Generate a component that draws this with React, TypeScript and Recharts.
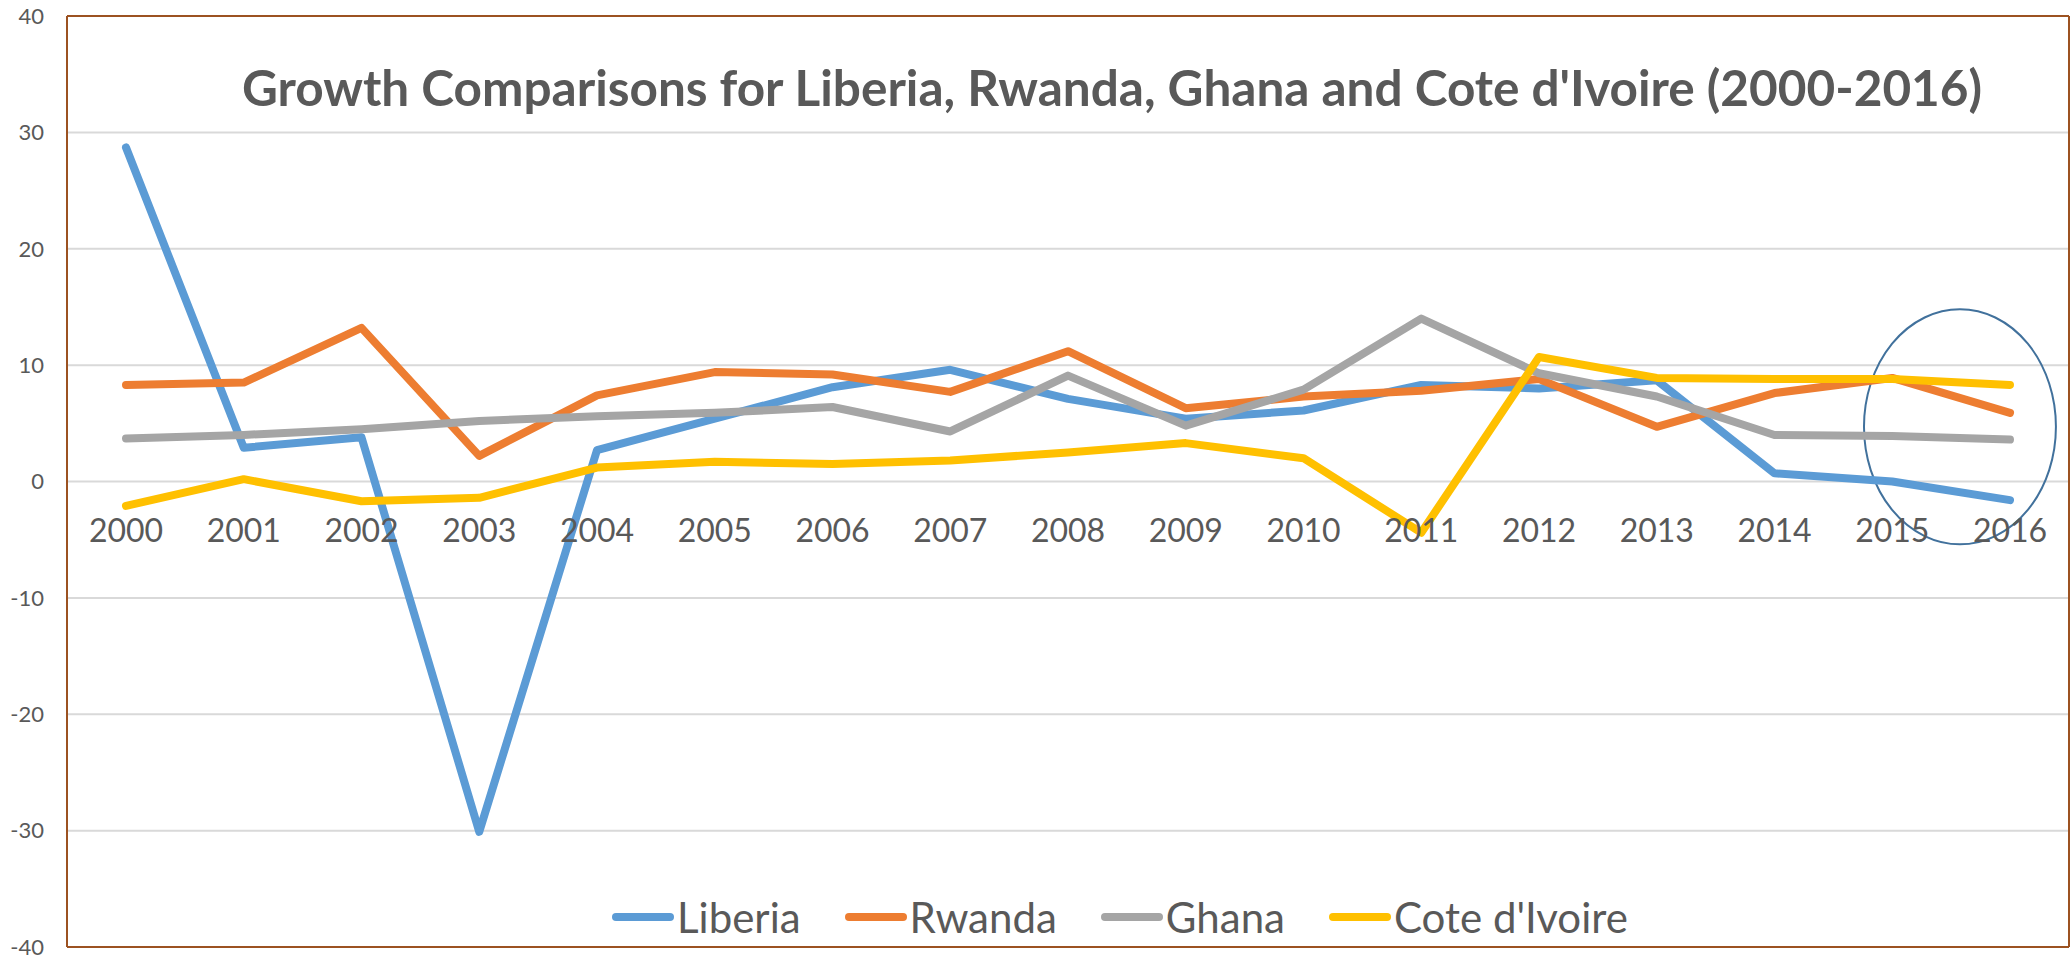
import React from "react";
import { CartesianGrid, Legend, Line, LineChart, ReferenceArea, XAxis, YAxis } from "recharts";

const years = ["2000", "2001", "2002", "2003", "2004", "2005", "2006", "2007", "2008", "2009", "2010", "2011", "2012", "2013", "2014", "2015", "2016"];
const liberia = [28.7, 2.9, 3.8, -30.1, 2.7, 5.4, 8.1, 9.6, 7.1, 5.4, 6.1, 8.3, 8.0, 8.7, 0.7, 0.0, -1.6];
const rwanda = [8.3, 8.5, 13.2, 2.2, 7.4, 9.4, 9.2, 7.7, 11.2, 6.3, 7.3, 7.8, 8.8, 4.7, 7.6, 8.9, 5.9];
const ghana = [3.7, 4.0, 4.5, 5.2, 5.6, 5.9, 6.4, 4.3, 9.1, 4.8, 7.9, 14.0, 9.3, 7.3, 4.0, 3.9, 3.6];
const coteDIvoire = [-2.1, 0.2, -1.7, -1.4, 1.2, 1.7, 1.5, 1.8, 2.5, 3.3, 2.0, -4.4, 10.7, 8.9, 8.8, 8.8, 8.3];
const yTicks = [-40, -30, -20, -10, 0, 10, 20, 30, 40];

const series = [
  { key: "Liberia", color: "#5B9BD5" },
  { key: "Rwanda", color: "#ED7D31" },
  { key: "Ghana", color: "#A5A5A5" },
  { key: "Cote d'Ivoire", color: "#FFC000" },
];

const data = years.map((year, i) => ({
  year,
  Liberia: liberia[i],
  Rwanda: rwanda[i],
  Ghana: ghana[i],
  "Cote d'Ivoire": coteDIvoire[i],
}));

const W = 2072;
const H = 956;
const MARGIN = { top: 15, right: 2, bottom: 8, left: 7 };
const PLOT_H = H - 16 - 9;
const FRAME = "#9C5221";
const TEXT = "#595959";
const FONT = "Lato, 'Noto Sans', sans-serif";

// year labels sit just under the zero line, like Excel's crossing axis
const renderYearTick = (props: any) => {
  const { x, y, payload } = props;
  return (
    <text x={x} y={y} dy={-PLOT_H / 2 + 60} textAnchor="middle" fill={TEXT} fontSize={32} fontFamily={FONT}>
      {payload.value}
    </text>
  );
};

const LegendContent = () => (
  <div style={{ display: "flex", alignItems: "center", fontFamily: FONT, fontSize: 42, lineHeight: "42px", color: TEXT }}>
    {series.map((s) => (
      <div key={s.key} style={{ display: "flex", alignItems: "center", marginRight: 44 }}>
        <svg width={62} height={10} style={{ marginRight: 3 }}>
          <line x1={4} y1={5} x2={58} y2={5} stroke={s.color} strokeWidth={8} strokeLinecap="round" />
        </svg>
        <span>{s.key}</span>
      </div>
    ))}
  </div>
);

const Ellipse = (props: any) => {
  const { x, y, width, height } = props;
  return (
    <ellipse
      cx={x + width * 0.575}
      cy={y + height / 2}
      rx={width * 0.815}
      ry={height / 2}
      fill="none"
      stroke="#41719C"
      strokeWidth={2}
    />
  );
};

export default function App() {
  return (
    <div style={{ position: "absolute", left: 0, top: 0, width: W, height: H, background: "#fff" }}>
      <div
        style={{
          position: "absolute",
          left: 1112,
          top: 63,
          transform: "translateX(-50%)",
          whiteSpace: "nowrap",
          fontFamily: FONT,
          fontWeight: 700,
          fontSize: 49.5,
          lineHeight: "49.5px",
          color: TEXT,
          zIndex: 2,
        }}
      >
        Growth Comparisons for Liberia, Rwanda, Ghana and Cote d'Ivoire (2000-2016)
      </div>
      <LineChart width={W} height={H} data={data} margin={MARGIN}>
        <CartesianGrid vertical={false} stroke="#D9D9D9" strokeWidth={2} />
        <XAxis
          dataKey="year"
          height={1}
          padding={{ left: 59, right: 59 }}
          tickSize={0}
          tickMargin={0}
          axisLine={{ stroke: FRAME, strokeWidth: 2 }}
          tickLine={false}
          interval={0}
          tick={renderYearTick}
        />
        <XAxis xAxisId="top" orientation="top" dataKey="year" height={1} tick={false} tickLine={false} axisLine={{ stroke: FRAME, strokeWidth: 2 }} />
        <YAxis
          domain={[-40, 40]}
          ticks={yTicks}
          interval={0}
          width={60}
          tickLine={false}
          tickSize={6}
          tickMargin={17}
          axisLine={{ stroke: FRAME, strokeWidth: 2 }}
          tick={{ fill: TEXT, fontSize: 22, fontFamily: FONT }}
        />
        <YAxis yAxisId="right" orientation="right" width={1} tick={false} tickLine={false} axisLine={{ stroke: FRAME, strokeWidth: 2 }} />
        {series.map((s) => (
          <Line
            key={s.key}
            type="linear"
            dataKey={s.key}
            stroke={s.color}
            strokeWidth={8}
            strokeLinecap="round"
            strokeLinejoin="round"
            dot={false}
            activeDot={false}
            isAnimationActive={false}
          />
        ))}
        <ReferenceArea x1="2015" x2="2016" y1={-5.4} y2={14.8} shape={<Ellipse />} />
        <Legend
          layout="horizontal"
          verticalAlign="middle"
          align="center"
          content={<LegendContent />}
          wrapperStyle={{ left: 612, top: 896, width: "auto" }}
        />
      </LineChart>
    </div>
  );
}
